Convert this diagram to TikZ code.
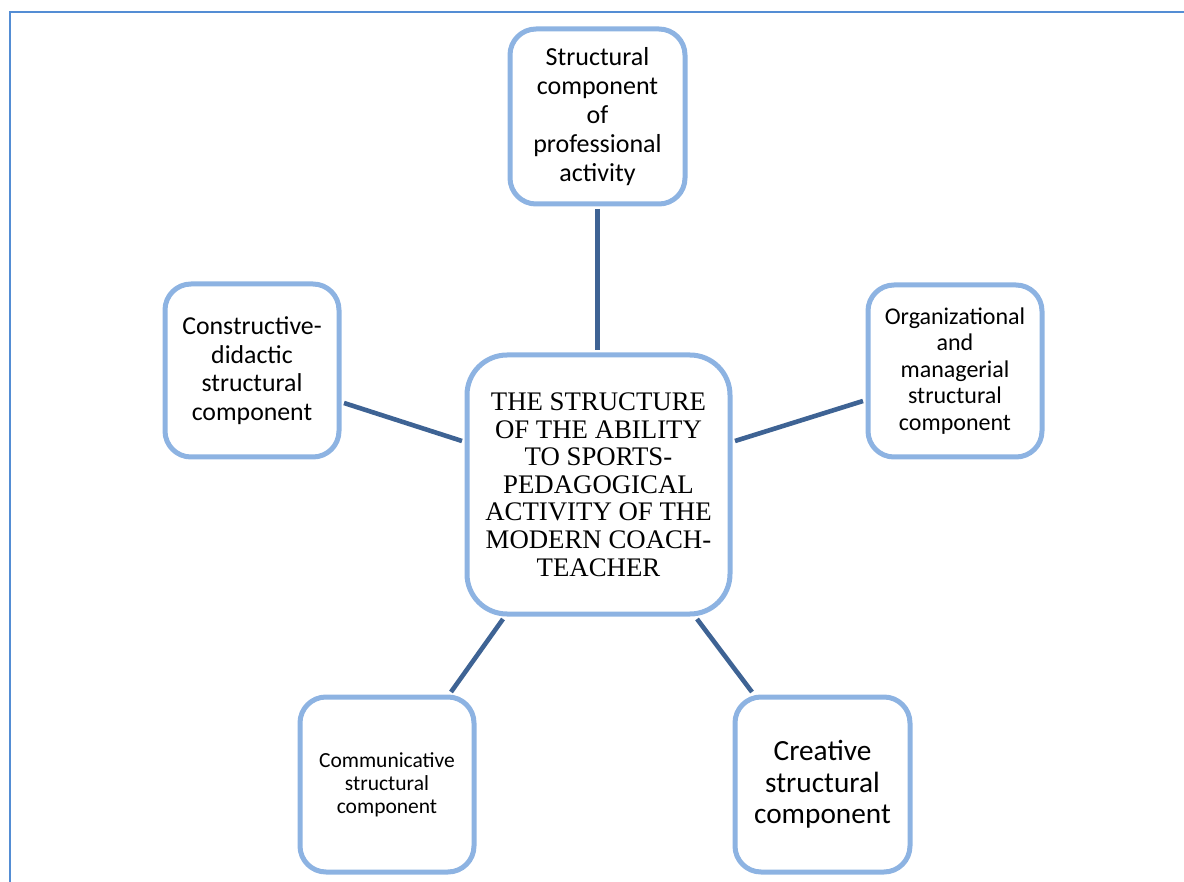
\documentclass[tikz,border=0pt]{standalone}
\usepackage{fontspec}
\setmainfont{Liberation Serif}
\newfontfamily\calib{Carlito}
\definecolor{boxblue}{RGB}{141,179,226}
\definecolor{linkblue}{RGB}{62,99,148}
\definecolor{frameblue}{RGB}{84,141,212}
\begin{document}
\begin{tikzpicture}[x=1pt,y=-1pt,
  comp/.style={draw=boxblue, line width=5pt, rounded corners=26pt, fill=white,
    minimum width=175pt, minimum height=175pt, inner sep=0pt, align=center},
  link/.style={draw=linkblue, line width=4.6pt}]
\useasboundingbox (0,0) rectangle (1184,882);
% frame
\draw[frameblue, line width=1.5pt] (10,882) -- (10,12) -- (1184,12);
% nodes
\node[comp, rounded corners=40pt, minimum width=263pt, minimum height=259pt,
  font=\fontsize{26.8}{27.6}\selectfont] (C) at (598.5,484.5)
  {THE STRUCTURE\\OF THE ABILITY\\TO SPORTS-\\PEDAGOGICAL\\ACTIVITY OF THE\\MODERN COACH-\\TEACHER};
\node[comp, font=\calib\fontsize{26}{28.8}\selectfont] (T) at (597.5,116.5)
  {Structural\\component\\of\\professional\\activity};
\node[comp, minimum width=174pt, minimum height=173pt,
  font=\calib\fontsize{25.8}{28.5}\selectfont] (L) at (252,370.5)
  {Constructive-\\didactic\\structural\\component};
\node[comp, minimum width=174pt, minimum height=172pt,
  font=\calib\fontsize{24}{26.5}\selectfont] (R) at (955,371)
  {Organizational\\and\\managerial\\structural\\component};
\node[comp, minimum width=174pt,
  font=\calib\fontsize{21.5}{23}\selectfont] (BL) at (387,784.5)
  {Communicative\\structural\\component};
\node[comp, font=\calib\fontsize{29.3}{31.5}\selectfont] (BR) at (822.5,784.5)
  {Creative\\structural\\component};
% connectors
\draw[link] ([yshift=-2.5pt]T.south) -- ([yshift=2.5pt]T.south |- C.north);
\draw[link] ([xshift=2.5pt,yshift=-32.5pt]L.east) -- ([xshift=-2.5pt,yshift=43.5pt]C.west);
\draw[link] ([xshift=-2.5pt,yshift=-30pt]R.west) -- ([xshift=2.5pt,yshift=43.5pt]C.east);
\draw[link] ([xshift=-95.5pt,yshift=-2.5pt]C.south) -- ([xshift=64pt,yshift=2.5pt]BL.north);
\draw[link] ([xshift=98.5pt,yshift=-2.5pt]C.south) -- ([xshift=-70.5pt,yshift=2.5pt]BR.north);
\end{tikzpicture}
\end{document}
